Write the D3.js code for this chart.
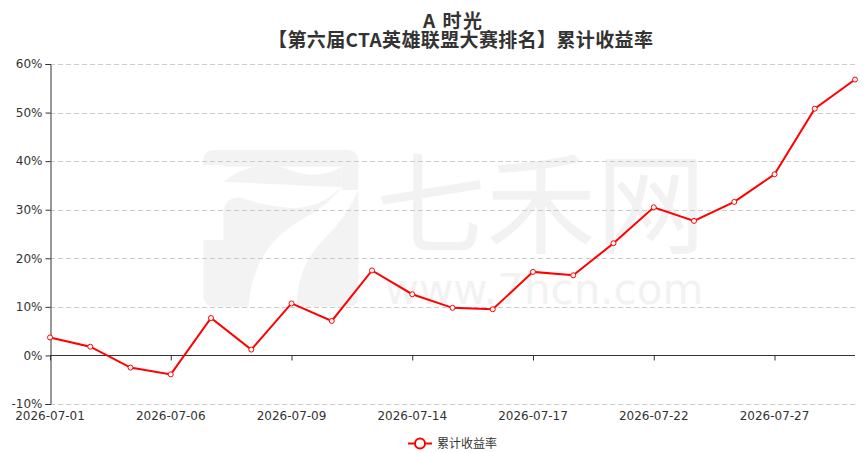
<!DOCTYPE html>
<html><head><meta charset="utf-8">
<script src="https://cdn.jsdelivr.net/npm/d3@7"></script>
<style>
html,body{margin:0;padding:0;background:#fff;}
svg{display:block;}
</style></head>
<body><svg id="c" width="868" height="453"></svg>
<script>
const titleLine1 = "A 时光";
const titleLine2 = "【第六届CTA英雄联盟大赛排名】累计收益率";
const seriesName = "累计收益率";
const dates = ["2026-07-01","2026-07-02","2026-07-03","2026-07-06","2026-07-07","2026-07-08","2026-07-09","2026-07-10","2026-07-13","2026-07-14","2026-07-15","2026-07-16","2026-07-17","2026-07-20","2026-07-21","2026-07-22","2026-07-23","2026-07-24","2026-07-27","2026-07-28","2026-07-29"];
const values = [3.7, 1.8, -2.5, -3.9, 7.7, 1.2, 10.7, 7.1, 17.5, 12.6, 9.8, 9.5, 17.2, 16.5, 23.1, 30.5, 27.7, 31.6, 37.3, 50.8, 56.8];
const yTicks = [-10, 0, 10, 20, 30, 40, 50, 60];
const xTickLabels = ["2026-07-01","2026-07-06","2026-07-09","2026-07-14","2026-07-17","2026-07-22","2026-07-27"];

const svg = d3.select("#c");
const W = 868, H = 453;
const m = {left: 50, right: 13, top: 64, bottom: 49};
const font = "'DejaVu Sans','Noto Sans CJK SC',sans-serif";
const cjk = "'Noto Sans CJK SC','DejaVu Sans',sans-serif";

// watermark
const wm = svg.append("g").attr("transform","translate(190,140) scale(0.3333)").attr("fill","#f3f3f3");
wm.append("path").attr("d","M40,75 L40,62 Q40,30 75,30 L470,30 Q505,30 505,65 L505,150 L455,150 L455,80 L100,80 L100,75 Z");
wm.append("path").attr("d","M100,125 Q200,50 300,90 Q380,122 455,82 L455,140 Q380,215 280,202 Q200,192 150,172 Q100,172 100,225 L100,300 L40,300 L40,465 Q40,500 80,500 L175,500 Q190,320 330,242 Q420,192 455,142 Z");
wm.append("path").attr("d","M505,150 L505,468 Q505,500 472,500 L320,500 Q320,380 400,300 Q470,232 505,150 Z");
svg.append("text").attr("x",541).attr("y",245).attr("text-anchor","middle")
  .attr("font-family",cjk).attr("font-size",110).attr("fill","#f2f2f2").text("七禾网");
svg.append("text").attr("x",544).attr("y",304).attr("text-anchor","middle")
  .attr("font-family",font).attr("font-size",42).attr("fill","#f2f2f2").text("www.7hcn.com");

const x = d3.scalePoint().domain(dates).range([m.left, W - m.right]);
const y = d3.scaleLinear().domain([-10, 60]).range([H - m.bottom, m.top]);

// grid
svg.append("g").selectAll("line").data(yTicks.filter(d => d !== 0)).join("line")
  .attr("x1", m.left).attr("x2", W - m.right)
  .attr("y1", d => Math.round(y(d)) + 0.5).attr("y2", d => Math.round(y(d)) + 0.5)
  .attr("stroke","#ccc").attr("stroke-dasharray","5,3");

// y axis
const yAxis = svg.append("g").attr("transform",`translate(${m.left + 0.5},0)`)
  .call(d3.axisLeft(y).tickValues(yTicks).tickSize(5).tickPadding(3).tickFormat(d => d + "%"));
yAxis.select(".domain").attr("stroke","#333");
yAxis.selectAll(".tick line").attr("stroke","#333");
yAxis.selectAll("text").attr("font-family",font).attr("font-size",12).attr("fill","#333");

// x axis at zero
const xAxis = svg.append("g").attr("transform",`translate(0,${Math.round(y(0)) + 0.5})`)
  .call(d3.axisBottom(x).tickValues(xTickLabels).tickSize(5).tickFormat(""));
xAxis.select(".domain").attr("stroke","#333").attr("d",`M${m.left},0H${W - m.right}`);
xAxis.selectAll(".tick line").attr("stroke","#333");

// x labels at bottom
svg.append("g").selectAll("text").data(xTickLabels).join("text")
  .attr("x", d => x(d)).attr("y", H - m.bottom + 16)
  .attr("text-anchor","middle").attr("font-family",font).attr("font-size",12).attr("fill","#333")
  .text(d => d);

// line
const data = dates.map((d,i) => ({d, v: values[i]}));
svg.append("path").datum(data)
  .attr("fill","none").attr("stroke","#ff0000").attr("stroke-width",2)
  .attr("d", d3.line().x(p => x(p.d)).y(p => y(p.v)));
svg.append("g").selectAll("circle").data(data).join("circle")
  .attr("cx", p => x(p.d)).attr("cy", p => y(p.v)).attr("r",2.5)
  .attr("fill","#fff").attr("stroke","#ff0000").attr("stroke-width",1);

// title
function fitTitle(sel, target) {
  const n = sel.node();
  const w = n.getComputedTextLength();
  if (w < target) sel.attr("textLength", target).attr("lengthAdjust","spacing");
}
const t1 = svg.append("text").attr("x",452.5).attr("y",28).attr("text-anchor","middle")
  .attr("font-family",cjk).attr("font-weight","bold").attr("font-size",19).attr("fill","#333")
  .text(titleLine1);
fitTitle(t1, 59);
const t2 = svg.append("text").attr("x",460.5).attr("y",47).attr("text-anchor","middle")
  .attr("font-family",cjk).attr("font-weight","bold").attr("font-size",19).attr("fill","#333").text(titleLine2);
fitTitle(t2, 385);

// legend
const lg = svg.append("g");
lg.append("line").attr("x1",408).attr("x2",432).attr("y1",443.5).attr("y2",443.5).attr("stroke","#ff0000").attr("stroke-width",2);
lg.append("circle").attr("cx",420).attr("cy",443.5).attr("r",5).attr("fill","#fff").attr("stroke","#ff0000").attr("stroke-width",2);
lg.append("text").attr("x",437).attr("y",448).attr("font-family",cjk).attr("font-size",12).attr("fill","#333").text(seriesName);
</script></body></html>
